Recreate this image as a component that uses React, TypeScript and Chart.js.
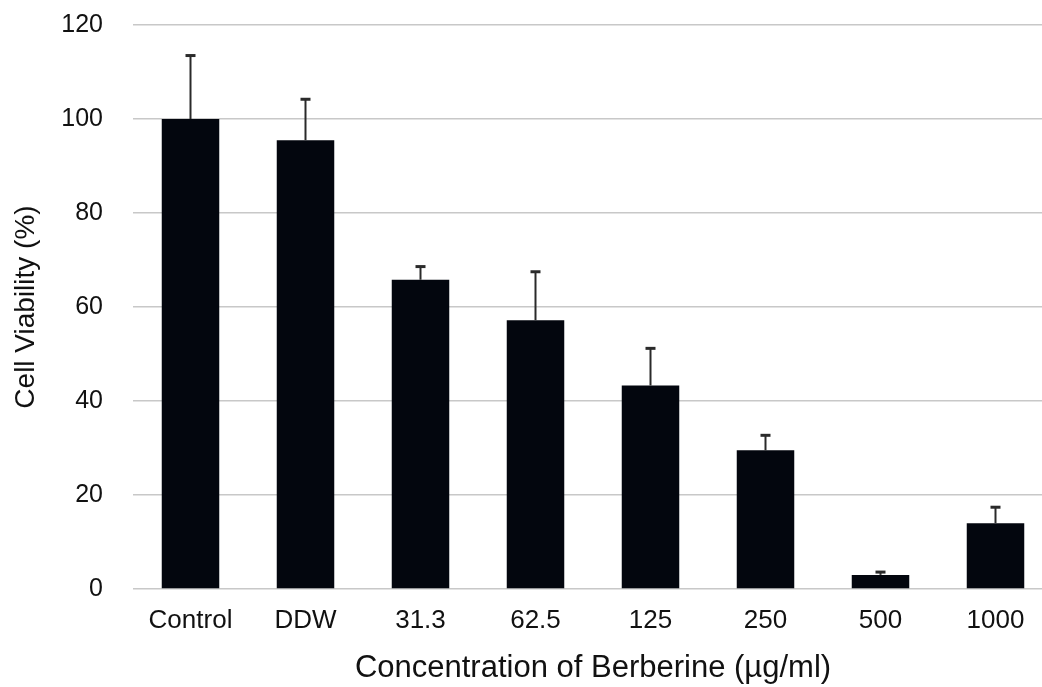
import React, { useEffect, useRef } from "react";
import { Chart, registerables } from "chart.js";

Chart.register(...registerables);

const categories = ["Control", "DDW", "31.3", "62.5", "125", "250", "500", "1000"];
const viability = [100, 95.5, 65.8, 57.2, 43.3, 29.5, 3.0, 14.0];
const errorUpper = [113.5, 104.2, 68.6, 67.5, 51.2, 32.7, 3.6, 17.4];
const yTicks = [0, 20, 40, 60, 80, 100, 120];

const FONT = "'Liberation Sans', Arial, Helvetica, sans-serif";

const errorBarPlugin = {
  id: "errorBars",
  afterDatasetsDraw(chart: any) {
    const ctx = chart.ctx;
    const meta = chart.getDatasetMeta(0);
    const y = chart.scales.y;
    ctx.save();
    ctx.strokeStyle = "#2a2a2a";
    meta.data.forEach((bar: any, i: number) => {
      const x = bar.x;
      const yTop = y.getPixelForValue(errorUpper[i]);
      const yBase = y.getPixelForValue(viability[i]);
      ctx.lineWidth = 2;
      ctx.beginPath();
      ctx.moveTo(x, yBase);
      ctx.lineTo(x, yTop);
      ctx.stroke();
      ctx.lineWidth = 3;
      ctx.beginPath();
      ctx.moveTo(x - 5, yTop);
      ctx.lineTo(x + 5, yTop);
      ctx.stroke();
    });
    ctx.restore();
  },
};

export default function App() {
  const ref = useRef<HTMLCanvasElement>(null);
  useEffect(() => {
    if (!ref.current) return;
    const chart = new Chart(ref.current, {
      type: "bar",
      data: {
        labels: categories,
        datasets: [
          {
            data: viability,
            backgroundColor: "#03060e",
            borderWidth: 0,
            categoryPercentage: 1,
            barPercentage: 0.5,
          },
        ],
      },
      options: {
        animation: false,
        responsive: false,
        maintainAspectRatio: false,
        layout: { padding: { top: 25, right: 0, left: 0, bottom: 0 } },
        plugins: { legend: { display: false }, tooltip: { enabled: false } },
        scales: {
          x: {
            grid: { display: false },
            border: { display: false },
            ticks: { color: "#111", font: { family: FONT, size: 26 }, padding: 8 },
            title: {
              display: true,
              text: "Concentration of Berberine (µg/ml)",
              color: "#111",
              font: { family: FONT, size: 31 },
              padding: { top: 1, bottom: 0 },
            },
            afterFit(scale: any) {
              scale.height = 98;
              scale.paddingLeft = 0;
              scale.paddingRight = 0;
            },
          },
          y: {
            min: 0,
            max: 120,
            afterBuildTicks(scale: any) {
              scale.ticks = yTicks.map((v) => ({ value: v }));
            },
            grid: { color: "#c8c8c8", lineWidth: 1.5, drawTicks: false },
            border: { display: false },
            ticks: { color: "#111", font: { family: FONT, size: 25 }, padding: 30 },
            title: {
              display: true,
              text: "Cell Viability (%)",
              color: "#111",
              font: { family: FONT, size: 28 },
              padding: { top: 9, bottom: 0 },
            },
            afterFit(scale: any) {
              scale.width = 133;
              scale.paddingTop = 0;
              scale.paddingBottom = 0;
            },
          },
        },
      },
      plugins: [errorBarPlugin],
    });
    return () => chart.destroy();
  }, []);
  return (
    <div style={{ position: "absolute", left: 0, top: 0, width: 1053, height: 687, background: "#fff" }}>
      <canvas ref={ref} width={1053} height={687} style={{ width: 1053, height: 687, display: "block" }} />
    </div>
  );
}
